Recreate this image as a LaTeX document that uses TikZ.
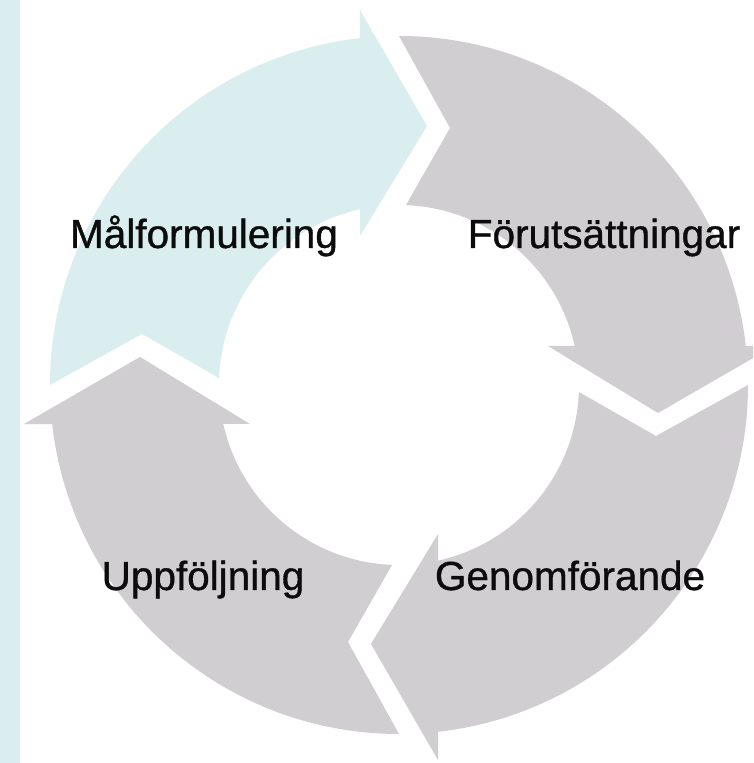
\documentclass[tikz,border=0pt]{standalone}
\usepackage{fontspec}
\setmainfont{Liberation Sans}
\newfontfamily\labelfont[FakeBold=0.9]{Liberation Sans}
\definecolor{segblue}{RGB}{218,238,239}
\definecolor{seggray}{RGB}{208,206,208}
\definecolor{labelcol}{RGB}{12,12,12}
\tikzset{
  labeltext/.style={anchor=base, text=labelcol, inner sep=0pt,
    font=\labelfont\fontsize{40.5}{48}\selectfont},
  segpath/.pic={
    \fill (-349pt,0pt) arc[start angle=180, end angle=96.45, radius=349pt]
      -- (-39pt,375pt) -- (28pt,259pt) -- (-39pt,149pt) -- (-39pt,175.7pt)
      arc[start angle=102.51, end angle=177.77, radius=180pt]
      -- (-257pt,51pt) -- cycle;
  }
}
\begin{document}
\begin{tikzpicture}[x=1pt,y=1pt]
\clip (0,0) rectangle (753,763);
\fill[white] (0,0) rectangle (753,763);
\fill[segblue] (0,0) rectangle (20,763);
\coordinate (c) at (399,378);
\pic[segblue] at (c) {segpath};
\pic[seggray, rotate=-90] at (c) {segpath};
\pic[seggray, rotate=-180] at (c) {segpath};
\pic[seggray, rotate=-270] at (c) {segpath};
\node[labeltext] (l1) at (204,515) {Målformulering};
\node[labeltext] (l2) at (604,515) {Förutsättningar};
\node[labeltext] (l3) at (570,173) {Genomförande};
\node[labeltext] (l4) at (203,173) {Uppföljning};
\end{tikzpicture}
\end{document}
